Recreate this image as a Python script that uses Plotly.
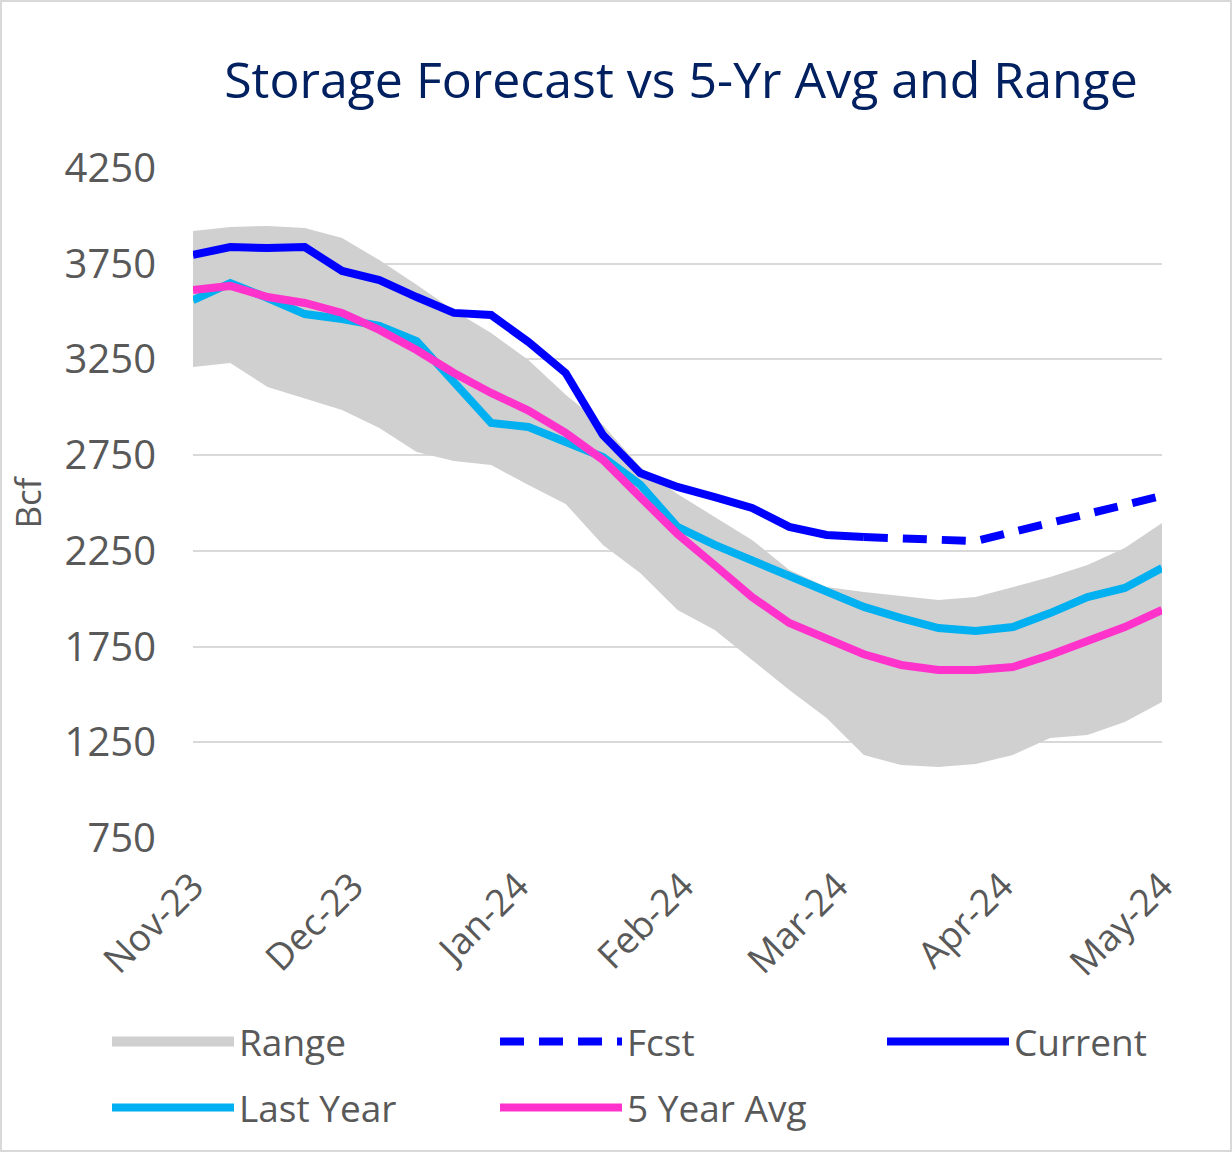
import pandas as pd
import plotly.graph_objects as go

# weekly points, Nov 1 2023 -> May 1 2024
weeks = pd.date_range("2023-11-01", periods=27, freq="7D")

range_hi = [3921, 3942, 3947, 3937, 3884, 3769, 3640, 3505, 3388, 3247, 3065, 2907, 2688, 2547,
            2427, 2307, 2150, 2061, 2035, 2014, 1993, 2009, 2061, 2113, 2176, 2265, 2395]
range_lo = [3210, 3231, 3106, 3048, 2986, 2892, 2766, 2719, 2698, 2594, 2495, 2281, 2134, 1941,
            1837, 1680, 1523, 1377, 1184, 1131, 1121, 1137, 1184, 1272, 1288, 1356, 1460]
last_year = [3560, 3649, 3571, 3487, 3461, 3425, 3346, 3137, 2918, 2897, 2813, 2740, 2595, 2375,
             2281, 2202, 2113, 2033, 1957, 1899, 1847, 1831, 1852, 1925, 2009, 2056, 2160]
five_yr_avg = [3613, 3634, 3576, 3545, 3493, 3404, 3299, 3179, 3075, 2983, 2866, 2725, 2531, 2338,
               2175, 2009, 1873, 1790, 1710, 1654, 1628, 1628, 1643, 1706, 1774, 1852, 1941]
current = [3796, 3837, 3832, 3837, 3712, 3665, 3576, 3493, 3482, 3341, 3179, 2855, 2657, 2584,
           2531, 2474, 2375, 2333, 2322]
fcst = [2322, 2312, 2301, 2301, 2349, 2396, 2443, 2490, 2537]

current_weeks = weeks[:len(current)]
fcst_weeks = weeks[len(current) - 1:]

GRAY_TXT = "#595959"
FONT = "Open Sans"
W, H = 1232, 1152
LW = 8

fig = go.Figure()

# gray band between the 5-year low and high
fig.add_trace(go.Scatter(
    x=weeks, y=range_lo, mode="lines", line=dict(width=0),
    showlegend=False, hoverinfo="skip"
))
fig.add_trace(go.Scatter(
    x=weeks, y=range_hi, mode="lines", line=dict(width=0),
    fill="tonexty", fillcolor="#D0D0D0", name="Range", showlegend=False
))
# legend swatch for the band
fig.add_trace(go.Scatter(
    x=[None], y=[None], mode="lines", name="Range",
    line=dict(color="#D0D0D0", width=20), legend="legend", legendrank=1
))
fig.add_trace(go.Scatter(
    x=weeks, y=last_year, mode="lines", name="Last Year",
    line=dict(color="#00B0F0", width=LW), legend="legend2", legendrank=4
))
fig.add_trace(go.Scatter(
    x=weeks, y=five_yr_avg, mode="lines", name="5 Year Avg",
    line=dict(color="#FF33CC", width=LW), legend="legend2", legendrank=5
))
fig.add_trace(go.Scatter(
    x=current_weeks, y=current, mode="lines", name="Current",
    line=dict(color="#0000FF", width=LW), legend="legend3", legendrank=3
))
fig.add_trace(go.Scatter(
    x=fcst_weeks, y=fcst, mode="lines", name="Fcst",
    line=dict(color="#0000FF", width=LW, dash="24px,15px"), legend="legend", legendrank=2
))

legend_style = dict(
    orientation="h",
    xref="container", yref="container",
    x=107 / W, xanchor="left",
    yanchor="middle",
    entrywidth=251,
    entrywidthmode="pixels",
    itemwidth=122,
    font=dict(family=FONT, size=37, color=GRAY_TXT),
    traceorder="normal",
    bgcolor="rgba(0,0,0,0)"
)

fig.update_layout(
    width=W,
    height=H,
    margin=dict(l=193, r=70, t=168, b=314, autoexpand=False),
    paper_bgcolor="white",
    plot_bgcolor="white",
    title=dict(
        text="Storage Forecast vs 5-Yr Avg and Range",
        x=681 / W, xanchor="center",
        y=1 - 80 / H, yanchor="middle",
        font=dict(family=FONT, size=50, color="#002060", weight=500)
    ),
    xaxis=dict(
        type="date",
        range=["2023-11-01", "2024-05-01"],
        dtick="M1",
        tick0="2023-11-01",
        tickformat="%b-%y",
        tickangle=-45,
        showgrid=False,
        zeroline=False,
        showline=False,
        ticks="",
        automargin=False,
        ticklabelstandoff=18,
        tickfont=dict(family=FONT, size=37, color=GRAY_TXT)
    ),
    yaxis=dict(
        range=[750, 4250],
        tick0=750,
        dtick=500,
        gridcolor="#D9D9D9",
        gridwidth=2,
        zeroline=False,
        showline=False,
        ticks="",
        automargin=False,
        ticklabelstandoff=36,
        tickfont=dict(family=FONT, size=40, color=GRAY_TXT),
        title=dict(text="Bcf", standoff=12, font=dict(family=FONT, size=35, color=GRAY_TXT))
    ),
    legend=dict(legend_style, y=1 - 1042 / H),
    legend3=dict(legend_style, x=882 / W, y=1 - 1042 / H),
    legend2=dict(legend_style, y=1 - 1108 / H),
    shapes=[dict(
        type="rect", xref="paper", yref="paper",
        x0=(1 - 193) / 969, x1=(1231 - 193) / 969,
        y0=(838 - 1151) / 670, y1=(838 - 1) / 670,
        line=dict(color="#D9D9D9", width=2), layer="below"
    )]
)

# page margin off so the figure sits at the window's top-left corner
fig.write_html("out.html", config={"displayModeBar": False},
               post_script="document.body.style.margin = '0';")
